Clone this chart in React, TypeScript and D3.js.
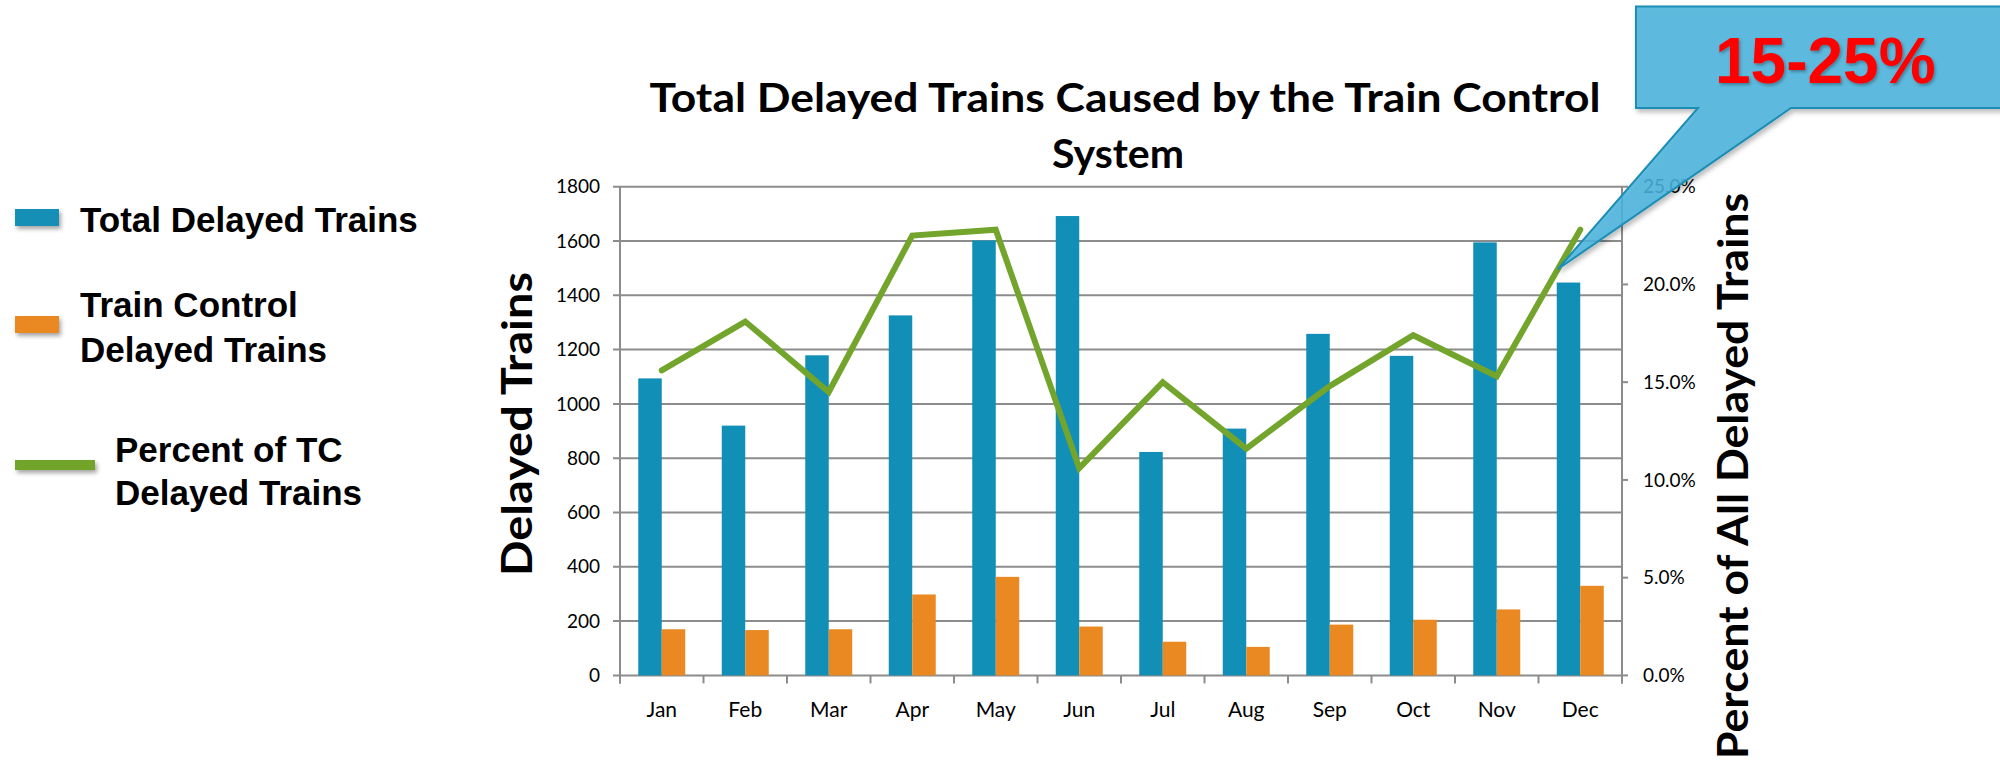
import React from 'react'
import * as d3 from 'd3'

const months = ['Jan', 'Feb', 'Mar', 'Apr', 'May', 'Jun', 'Jul', 'Aug', 'Sep', 'Oct', 'Nov', 'Dec']
const totalDelayed = [1094, 920, 1179, 1326, 1602, 1692, 823, 909, 1258, 1177, 1595, 1447]
const tcDelayed = [170, 167, 170, 298, 363, 180, 124, 105, 187, 205, 243, 330]
const tcPercent = [15.6, 18.1, 14.5, 22.5, 22.8, 10.6, 15.0, 11.6, 14.8, 17.4, 15.3, 22.8]
const leftTicks = [0, 200, 400, 600, 800, 1000, 1200, 1400, 1600, 1800]
const rightTicks = [0, 5, 10, 15, 20, 25]
const seriesKeys = ['total', 'tc']
const titleLines = ['Total Delayed Trains Caused by the Train Control', 'System']
const calloutText = '15-25%'

const W = 2000
const H = 761
const plot = { left: 620, right: 1622, top: 186.7, bottom: 675.4 }

const BLUE = '#128fb7'
const ORANGE = '#ea8921'
const GREEN = '#73a42c'
const GRID = '#8c8c8c'
const chartFont = "Lato, 'Open Sans', sans-serif"
const legendFont = "'Liberation Sans', Arial, sans-serif"

export default function App() {
  const x = d3.scaleBand().domain(months).range([plot.left, plot.right]).padding(0)
  const xs = d3.scaleBand().domain(seriesKeys).range([0, x.bandwidth()]).paddingInner(0).paddingOuter(0.777)
  const yL = d3.scaleLinear().domain([0, 1800]).range([plot.bottom, plot.top])
  const yR = d3.scaleLinear().domain([0, 25]).range([plot.bottom, plot.top])

  const cx = (m: string) => (x(m) as number) + x.bandwidth() / 2
  const line = d3.line<number>()
    .x((_, i) => cx(months[i]))
    .y(d => yR(d))

  // callout tip sits on the Nov -> Dec segment of the percent line
  const t = 0.73
  const tipX = cx('Nov') + (cx('Dec') - cx('Nov')) * t
  const tipY = yR(tcPercent[10] + (tcPercent[11] - tcPercent[10]) * t)
  const callout = [
    [1636, 6.5], [2010, 6.5], [2010, 108], [1791, 108], [tipX, tipY], [1698, 108], [1636, 108],
  ]

  const tickEdges = d3.range(months.length + 1).map(i => plot.left + i * x.step())

  return (
    <svg width={W} height={H} style={{ position: 'absolute', left: 0, top: 0, display: 'block', background: '#fff' }}>
      <defs>
        <filter id="sh" x="-20%" y="-50%" width="150%" height="250%">
          <feDropShadow dx="2" dy="3" stdDeviation="2" floodColor="#000" floodOpacity="0.35" />
        </filter>
        <filter id="shc" x="-10%" y="-10%" width="130%" height="130%">
          <feDropShadow dx="2" dy="3" stdDeviation="2.5" floodColor="#000" floodOpacity="0.3" />
        </filter>
        <filter id="sht" x="-10%" y="-10%" width="130%" height="130%">
          <feDropShadow dx="1.5" dy="2" stdDeviation="1.5" floodColor="#000" floodOpacity="0.3" />
        </filter>
      </defs>

      {/* legend */}
      <g fontFamily={legendFont} fontWeight="bold" fontSize={35} fill="#000">
        <rect x={15} y={209} width={44} height={17} fill={BLUE} filter="url(#sh)" />
        <text x={80} y={231.5}>Total Delayed Trains</text>
        <rect x={15} y={316} width={44} height={17} fill={ORANGE} filter="url(#sh)" />
        <text x={80} y={317}>Train Control</text>
        <text x={80} y={361.5}>Delayed Trains</text>
        <rect x={15} y={460} width={80} height={10} fill={GREEN} filter="url(#sh)" />
        <text x={115} y={462}>Percent of TC</text>
        <text x={115} y={505}>Delayed Trains</text>
      </g>

      {/* title */}
      <g fontFamily={chartFont} fontWeight="bold" fontSize={41} textAnchor="middle" fill="#000">
        <text x={1125} y={112} textLength={951} lengthAdjust="spacingAndGlyphs">{titleLines[0]}</text>
        <text x={1118} y={168}>{titleLines[1]}</text>
      </g>

      {/* gridlines and left ticks */}
      <g stroke={GRID} strokeWidth={2}>
        {leftTicks.map(v => (
          <line key={v} x1={plot.left - 7} x2={plot.right} y1={yL(v)} y2={yL(v)} />
        ))}
        <line x1={plot.left} x2={plot.left} y1={plot.top} y2={plot.bottom + 8} />
        <line x1={plot.right} x2={plot.right} y1={plot.top} y2={plot.bottom + 8} />
        {rightTicks.map(v => (
          <line key={v} x1={plot.right} x2={plot.right + 6} y1={yR(v)} y2={yR(v)} />
        ))}
        {tickEdges.map((e, i) => (
          <line key={i} x1={e} x2={e} y1={plot.bottom} y2={plot.bottom + 8} />
        ))}
      </g>

      {/* bars */}
      <g>
        {months.map((m, i) => (
          <g key={m} transform={`translate(${x(m)},0)`}>
            <rect x={xs('total')} y={yL(totalDelayed[i])} width={xs.bandwidth()} height={plot.bottom - yL(totalDelayed[i])} fill={BLUE} />
            <rect x={xs('tc')} y={yL(tcDelayed[i])} width={xs.bandwidth()} height={plot.bottom - yL(tcDelayed[i])} fill={ORANGE} />
          </g>
        ))}
      </g>

      {/* percent line */}
      <path d={line(tcPercent) || ''} fill="none" stroke={GREEN} strokeWidth={6} strokeLinecap="round" strokeLinejoin="miter" />

      {/* axis labels */}
      <g fontFamily={chartFont} fill="#000">
        {leftTicks.map(v => (
          <text key={v} x={600} y={yL(v)} dy="0.35em" fontSize={19} textAnchor="end">{v}</text>
        ))}
        {rightTicks.map(v => (
          <text key={v} x={1643} y={yR(v)} dy="0.35em" fontSize={19}>{d3.format('.1f')(v)}%</text>
        ))}
        {months.map(m => (
          <text key={m} x={cx(m)} y={717} fontSize={21} textAnchor="middle">{m}</text>
        ))}
      </g>

      {/* axis titles */}
      <g fontFamily={chartFont} fontWeight="bold" fontSize={42} fill="#000" textAnchor="middle">
        <text transform="translate(532,424) rotate(-90)" textLength={304} lengthAdjust="spacingAndGlyphs">Delayed Trains</text>
        <text transform="translate(1748,476) rotate(-90)" textLength={566} lengthAdjust="spacingAndGlyphs">Percent of All Delayed Trains</text>
      </g>

      {/* callout */}
      <path
        d={(d3.line()(callout as [number, number][]) || '') + 'Z'}
        fill="#4bb4dd"
        fillOpacity={0.85}
        stroke="#1b8db4"
        strokeWidth={2}
        filter="url(#shc)"
      />
      <text x={1715} y={83} fontFamily={legendFont} fontWeight="bold" fontSize={64} fill="#ff0000" filter="url(#sht)">{calloutText}</text>
    </svg>
  )
}
